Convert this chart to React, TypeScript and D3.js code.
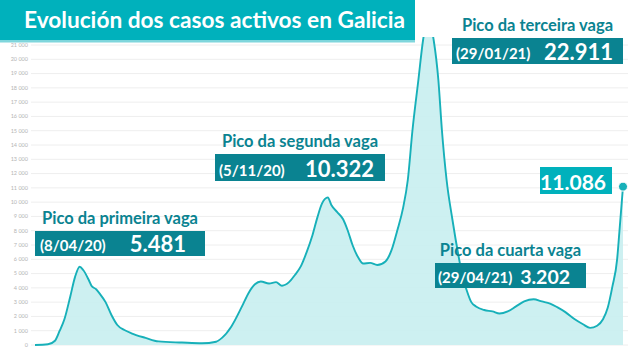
import * as d3 from 'd3';
import React from 'react';

const dates = [
  "2020-03-01","2020-03-12","2020-03-18","2020-03-22","2020-03-26","2020-03-31","2020-04-04","2020-04-08",
  "2020-04-11","2020-04-16","2020-04-18","2020-04-22","2020-04-25","2020-04-30","2020-05-05","2020-05-10",
  "2020-05-16","2020-05-22","2020-06-03","2020-06-14","2020-07-04","2020-07-21","2020-08-02","2020-08-07",
  "2020-08-15","2020-08-24","2020-08-30","2020-09-04","2020-09-09","2020-09-16","2020-09-22","2020-09-27",
  "2020-10-03","2020-10-08","2020-10-13","2020-10-18","2020-10-23","2020-10-27","2020-10-31","2020-11-05",
  "2020-11-08","2020-11-13","2020-11-18","2020-11-22","2020-11-26","2020-12-01","2020-12-05","2020-12-11",
  "2020-12-17","2020-12-24","2020-12-29","2021-01-03","2021-01-08","2021-01-12","2021-01-16","2021-01-21",
  "2021-01-25","2021-01-29","2021-02-03","2021-02-07","2021-02-10","2021-02-14","2021-02-19","2021-02-24",
  "2021-02-28","2021-03-03","2021-03-07","2021-03-11","2021-03-18","2021-03-25","2021-03-31","2021-04-07",
  "2021-04-14","2021-04-21","2021-04-29","2021-05-06","2021-05-13","2021-05-19","2021-05-26","2021-06-03",
  "2021-06-10","2021-06-16","2021-06-22","2021-06-27","2021-07-01","2021-07-05","2021-07-09","2021-07-11",
  "2021-07-14"
];
const activeCases = [
  0, 50, 300, 1000, 1800, 3400, 4750, 5481,
  5250, 4500, 4150, 3900, 3600, 3000, 2100, 1400,
  1050, 820, 500, 250, 170, 120, 230, 500,
  1300, 2700, 3700, 4250, 4450, 4300, 4400, 4150,
  4400, 4900, 5500, 6500, 7700, 8900, 9900, 10322,
  9800, 9300, 8800, 8000, 7000, 6100, 5700, 5750,
  5600, 5850, 6600, 8000, 9600, 11550, 15050, 18550,
  21350, 22911, 21350, 18550, 15050, 11550, 8750, 6300,
  4600, 3850, 3000, 2700, 2450, 2350, 2200, 2350,
  2700, 3050, 3202, 3050, 2900, 2650, 2300, 1800,
  1450, 1200, 1350, 1800, 2600, 4100, 6000, 8000,
  11086
];

const yTicks = d3.range(0, 22000, 1000);
const title = "Evolución dos casos activos en Galicia";
const peakTitles = ["Pico da primeira vaga", "Pico da segunda vaga", "Pico da terceira vaga", "Pico da cuarta vaga"];
const peakDates = ["(8/04/20)", "(5/11/20)", "(29/01/21)", "(29/04/21)"];
const peakValues = ["5.481", "10.322", "22.911", "3.202"];
const lastValue = "11.086";

const W = 640;
const H = 360;
const FONT = "Lato, 'Open Sans', sans-serif";
const DARK = "#0a8391";
const LIGHT = "#00b1bc";

// layout of the four annotation boxes: [box x, box y, box w, box h, date x, value right, value size]
const boxes = [
  [35, 231, 170, 25, 40, 186, 22],
  [215, 154, 170, 27, 219, 374, 22],
  [452, 38, 171, 26, 456, 613, 22],
  [435, 263, 151, 25, 438, 570, 19.5],
];

export default function App() {
  const parse = d3.timeParse("%Y-%m-%d");
  const data = dates.map((d, i) => ({ date: parse(d) as Date, value: activeCases[i] }));

  const x = d3.scaleTime()
    .domain([parse("2020-03-01") as Date, parse("2021-07-14") as Date])
    .range([35, 623]);
  const y = d3.scaleLinear().domain([0, 21000]).range([345, 45]);

  const line = d3.line<any>().x(d => x(d.date)).y(d => y(d.value)).curve(d3.curveMonotoneX);
  const area = d3.area<any>().x(d => x(d.date)).y0(y(0)).y1(d => y(d.value)).curve(d3.curveMonotoneX);
  const fmt = (v: number) => d3.format(",")(v).replace(/,/g, " ");
  const last = data[data.length - 1];

  return (
    <svg width={W} height={H} style={{ position: "absolute", left: 0, top: 0, background: "#fff" }}>
      <defs>
        <clipPath id="plot">
          <rect x={0} y={37} width={W} height={H - 37} />
        </clipPath>
      </defs>
      {yTicks.map(t => (
        <g key={t}>
          <line x1={31} x2={628} y1={y(t)} y2={y(t)} stroke="#eeeeee" strokeWidth={1} />
          <text x={28} y={y(t)} dy="0.35em" textAnchor="end" fontSize={5.5} fill="#b5b5b5" fontFamily={FONT}>
            {t === 0 ? "0" : fmt(t)}
          </text>
        </g>
      ))}
      <g clipPath="url(#plot)">
        <path d={area(data) as string} fill="#c8eef0" fillOpacity={0.9} />
        <path d={line(data) as string} fill="none" stroke="#17b0b9" strokeWidth={1.9} strokeLinejoin="round" />
      </g>
      <circle cx={x(last.date)} cy={y(last.value)} r={4.5} fill="#17b0b9" stroke="#fff" strokeWidth={1} />

      <rect x={0} y={0} width={415} height={40} fill={LIGHT} />
      <rect x={0} y={40} width={415} height={2.5} fill="#7fd6dc" />
      <text x={24} y={28} fill="#fff" fontFamily={FONT} fontWeight={700} fontSize={22.5}
        textLength={381} lengthAdjust="spacingAndGlyphs">{title}</text>

      {boxes.map(([bx, by, bw, bh, dx, vr, vs], i) => (
        <g key={i}>
          <text x={bx + bw / 2} y={by - 7} textAnchor="middle" fill={DARK} fontFamily={FONT}
            fontWeight={700} fontSize={16.5}>{peakTitles[i]}</text>
          <rect x={bx} y={by} width={bw} height={bh} fill={DARK} />
          <text x={dx} y={by + bh - 5} fill="#fff" fontFamily={FONT} fontWeight={700} fontSize={15}>{peakDates[i]}</text>
          <text x={vr} y={by + bh - 4} textAnchor="end" fill="#fff" fontFamily={FONT} fontWeight={700} fontSize={vs}>{peakValues[i]}</text>
        </g>
      ))}

      <rect x={540} y={167} width={72} height={27} fill={LIGHT} />
      <text x={606} y={190} textAnchor="end" fill="#fff" fontFamily={FONT} fontWeight={700} fontSize={21}>{lastValue}</text>
    </svg>
  );
}
